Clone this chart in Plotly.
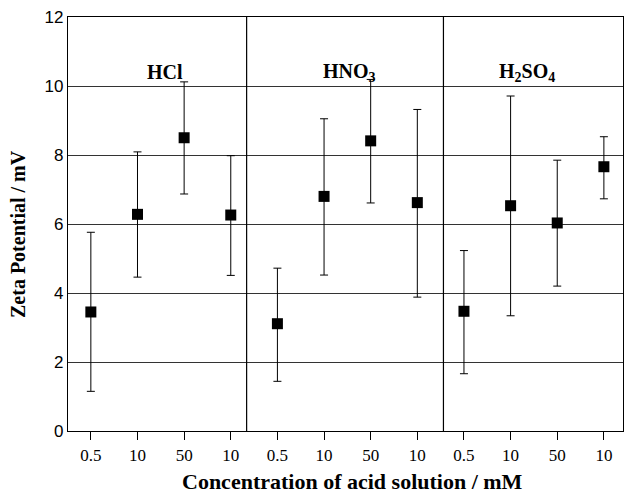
import plotly.graph_objects as go

acids = ["HCl", "HNO<sub>3</sub>", "H<sub>2</sub>SO<sub>4</sub>"]
conc_labels = ["0.5", "10", "50", "10"]
zeta = [3.45, 6.28, 8.50, 6.26, 3.11, 6.80, 8.41, 6.62, 3.47, 6.53, 6.03, 7.66]
err_hi = [5.76, 8.09, 10.12, 7.98, 4.72, 9.05, 10.19, 9.32, 5.23, 9.71, 7.85, 8.53]
err_lo = [1.15, 4.46, 6.87, 4.51, 1.44, 4.52, 6.61, 3.88, 1.66, 3.34, 4.20, 6.73]
dividers = [3.34, 7.56]
label_x = [1.6, 5.55, 9.35]
label_y = 10.4

xs = list(range(len(zeta)))
ticktext = conc_labels * len(acids)

fig = go.Figure()
fig.add_trace(go.Scatter(
    x=xs, y=zeta, mode="markers",
    marker=dict(symbol="square", size=11, color="black"),
    error_y=dict(type="data", symmetric=False,
                 array=[h - v for h, v in zip(err_hi, zeta)],
                 arrayminus=[v - l for l, v in zip(err_lo, zeta)],
                 color="black", thickness=1, width=4),
    showlegend=False,
))

for d in dividers:
    fig.add_shape(type="line", xref="x", yref="y", x0=d, x1=d, y0=0, y1=12,
                  line=dict(color="black", width=1.2))

for name, lx in zip(acids, label_x):
    fig.add_annotation(x=lx, y=label_y, text="<b>%s</b>" % name, showarrow=False,
                       font=dict(family="Liberation Serif", size=20, color="black"))

fig.add_annotation(xref="paper", yref="paper", x=0.5135, y=-0.121,
                   text="<b>Concentration of acid solution / mM</b>", showarrow=False,
                   xanchor="center", yanchor="middle",
                   font=dict(family="Liberation Serif", size=22, color="black"))
fig.add_annotation(xref="paper", yref="paper", x=-0.09, y=0.476,
                   text="<b>Zeta Potential / mV</b>", showarrow=False, textangle=-90,
                   xanchor="center", yanchor="middle",
                   font=dict(family="Liberation Serif", size=20, color="black"))

fig.update_layout(
    width=624, height=497,
    margin=dict(l=68, r=1, t=17, b=66),
    paper_bgcolor="white", plot_bgcolor="white",
    xaxis=dict(range=[-0.49, 11.41], tickvals=xs, ticktext=ticktext,
               ticks="outside", ticklen=8, tickcolor="black", tickwidth=1,
               showgrid=False, zeroline=False,
               showline=True, linecolor="black", linewidth=1.2, mirror=True,
               tickfont=dict(family="Liberation Serif", size=17, color="black")),
    yaxis=dict(range=[0, 12], tickvals=[0, 2, 4, 6, 8, 10, 12],
               showgrid=True, gridcolor="#333333", gridwidth=1,
               zeroline=False, ticks="",
               showline=True, linecolor="black", linewidth=1.2, mirror=True,
               tickfont=dict(family="Liberation Sans", size=17, color="black")),
)

fig.write_html("out.html")
